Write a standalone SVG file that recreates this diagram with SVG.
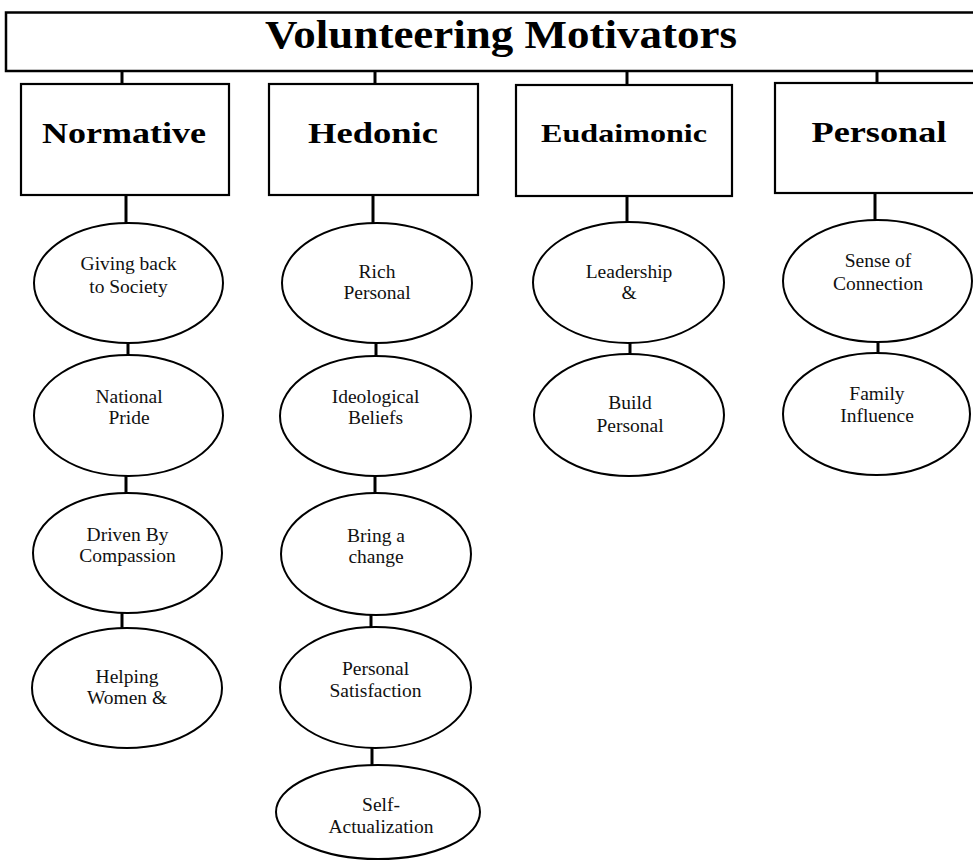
<svg xmlns="http://www.w3.org/2000/svg" width="973" height="863" viewBox="0 0 973 863">
<style>
.box{fill:#fff;stroke:#000;stroke-width:2.2}
.ell{fill:#fff;stroke:#000;stroke-width:2}
.con line{stroke:#000;stroke-width:3}
.title{font-family:"Liberation Serif",serif;font-weight:bold;font-size:41px;text-anchor:middle;fill:#000}
.cat{font-family:"Liberation Serif",serif;font-weight:bold;font-size:29px;text-anchor:middle;fill:#000}
.lbl{font-family:"Liberation Serif",serif;font-size:19.5px;text-anchor:middle;fill:#111}
</style>
<rect width="973" height="863" fill="#fff"/>
<g id="connectors" class="con">
<line x1="122" y1="71" x2="122" y2="84"/>
<line x1="375" y1="71" x2="375" y2="84"/>
<line x1="627" y1="71" x2="627" y2="85"/>
<line x1="877" y1="71" x2="877" y2="83"/>
<line x1="126" y1="195" x2="126" y2="223"/>
<line x1="373" y1="195" x2="373" y2="223"/>
<line x1="627" y1="196" x2="627" y2="222"/>
<line x1="875" y1="193" x2="875" y2="220"/>
<line x1="128" y1="343" x2="128" y2="355"/>
<line x1="126" y1="476" x2="126" y2="493"/>
<line x1="122" y1="613" x2="122" y2="628"/>
<line x1="376" y1="343" x2="376" y2="356"/>
<line x1="375" y1="476" x2="375" y2="493"/>
<line x1="371" y1="615" x2="371" y2="627"/>
<line x1="372" y1="748" x2="372" y2="765"/>
<line x1="630" y1="343" x2="630" y2="354"/>
<line x1="878" y1="342" x2="878" y2="353"/>
</g>
<g id="title">
<rect class="box" x="6" y="12.5" width="980" height="58.5" style="stroke-width:2.5"/>
<text class="title" x="501" y="48" textLength="472" lengthAdjust="spacingAndGlyphs">Volunteering Motivators</text>
</g>
<g id="normative">
<rect class="box" x="21" y="84" width="208" height="111"/>
<text class="cat" x="124" y="143" textLength="164" lengthAdjust="spacingAndGlyphs">Normative</text>
</g>
<g id="hedonic">
<rect class="box" x="269" y="84" width="209" height="111"/>
<text class="cat" x="373" y="143" textLength="130" lengthAdjust="spacingAndGlyphs">Hedonic</text>
</g>
<g id="eudaimonic">
<rect class="box" x="516" y="85" width="216" height="111"/>
<text class="cat" x="624" y="142" style="font-size:26px" textLength="166" lengthAdjust="spacingAndGlyphs">Eudaimonic</text>
</g>
<g id="personal">
<rect class="box" x="775" y="83" width="210" height="110"/>
<text class="cat" x="879" y="142" textLength="135" lengthAdjust="spacingAndGlyphs">Personal</text>
</g>
<g id="n1"><ellipse class="ell" cx="128.5" cy="283" rx="94.5" ry="60"/>
<text class="lbl" x="128.5" y="270">Giving back</text><text class="lbl" x="128.5" y="293">to Society</text></g>
<g id="n2"><ellipse class="ell" cx="128.5" cy="415.5" rx="94.5" ry="60.5"/>
<text class="lbl" x="129" y="403">National</text><text class="lbl" x="129" y="424">Pride</text></g>
<g id="n3"><ellipse class="ell" cx="127.5" cy="553" rx="94.5" ry="60"/>
<text class="lbl" x="127.5" y="541">Driven By</text><text class="lbl" x="127.5" y="562">Compassion</text></g>
<g id="n4"><ellipse class="ell" cx="127" cy="688" rx="95" ry="60"/>
<text class="lbl" x="127" y="683">Helping</text><text class="lbl" x="127" y="704">Women &amp;</text></g>
<g id="h1"><ellipse class="ell" cx="377" cy="283" rx="95" ry="60"/>
<text class="lbl" x="377" y="278">Rich</text><text class="lbl" x="377" y="299">Personal</text></g>
<g id="h2"><ellipse class="ell" cx="375.5" cy="416" rx="95.5" ry="60"/>
<text class="lbl" x="375.5" y="403">Ideological</text><text class="lbl" x="375.5" y="424">Beliefs</text></g>
<g id="h3"><ellipse class="ell" cx="376" cy="554" rx="95" ry="61"/>
<text class="lbl" x="376" y="542">Bring a</text><text class="lbl" x="376" y="563">change</text></g>
<g id="h4"><ellipse class="ell" cx="375.5" cy="687.5" rx="95.5" ry="60.5"/>
<text class="lbl" x="375.5" y="675">Personal</text><text class="lbl" x="375.5" y="697">Satisfaction</text></g>
<g id="h5"><ellipse class="ell" cx="378" cy="812" rx="102" ry="47"/>
<text class="lbl" x="381" y="811">Self-</text><text class="lbl" x="381" y="833">Actualization</text></g>
<g id="e1"><ellipse class="ell" cx="628.5" cy="282.5" rx="95.5" ry="60.5"/>
<text class="lbl" x="629" y="278">Leadership</text><text class="lbl" x="629" y="299">&amp;</text></g>
<g id="e2"><ellipse class="ell" cx="629" cy="415" rx="95" ry="61"/>
<text class="lbl" x="630" y="409">Build</text><text class="lbl" x="630" y="432">Personal</text></g>
<g id="p1"><ellipse class="ell" cx="877.5" cy="281" rx="94.5" ry="61"/>
<text class="lbl" x="878" y="267">Sense of</text><text class="lbl" x="878" y="290">Connection</text></g>
<g id="p2"><ellipse class="ell" cx="876.5" cy="414" rx="93.5" ry="61"/>
<text class="lbl" x="877" y="400">Family</text><text class="lbl" x="877" y="422">Influence</text></g>
</svg>
